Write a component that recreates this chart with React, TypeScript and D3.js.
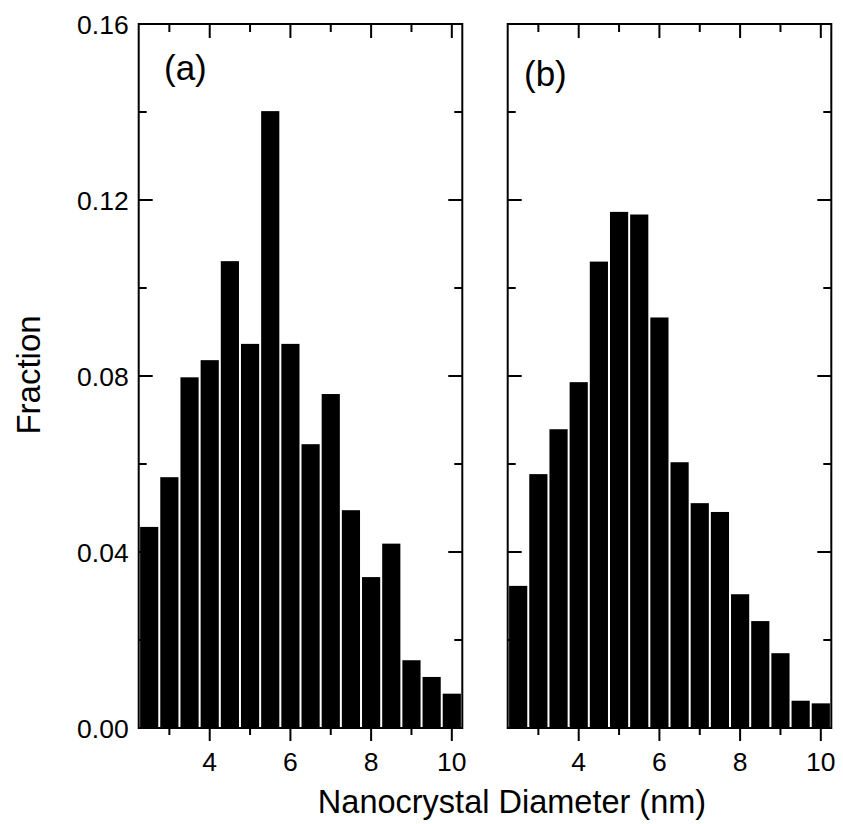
import React from "react";
import * as d3 from "d3";

const binCenters = [2.5, 3.0, 3.5, 4.0, 4.5, 5.0, 5.5, 6.0, 6.5, 7.0, 7.5, 8.0, 8.5, 9.0, 9.5, 10.0];
const fractionA = [0.0457, 0.057, 0.0797, 0.0836, 0.1061, 0.0873, 0.1402, 0.0873, 0.0645, 0.0759, 0.0495, 0.0343, 0.0419, 0.0154, 0.0116, 0.0078];
const fractionB = [0.0323, 0.0577, 0.0679, 0.0786, 0.106, 0.1173, 0.1167, 0.0933, 0.0604, 0.0511, 0.0491, 0.0304, 0.0243, 0.017, 0.0062, 0.0056];
const panelLabels = ["(a)", "(b)"];
const xMajorTicks = [4, 6, 8, 10];
const xMinorTicks = [3, 5, 7, 9];
const yMajorTicks = [0, 0.04, 0.08, 0.12, 0.16];
const yMinorTicks = [0.02, 0.06, 0.1, 0.14];
const xTitle = "Nanocrystal Diameter (nm)";
const yTitle = "Fraction";

const W = 843;
const H = 824;
const top = 24;
const bottom = 728;
const panels = [
  { left: 138.7, right: 462.3, data: fractionA, label: panelLabels[0], lx: 164, ly: 80, showY: true },
  { left: 507.7, right: 831.3, data: fractionB, label: panelLabels[1], lx: 524, ly: 86, showY: false },
];
const font = "'Liberation Sans', Arial, Helvetica, sans-serif";

function Panel({ p }: { p: any }) {
  const x = d3.scaleLinear().domain([2.24, 10.26]).range([p.left, p.right]);
  const y = d3.scaleLinear().domain([0, 0.16]).range([bottom, top]);
  const major = 14;
  const minor = 8;
  return (
    <g>
      {binCenters.map((c, i) => {
        const x0 = x(c - 0.25) + 1;
        const x1 = x(c + 0.25) - 1;
        return (
          <rect key={i} x={Math.max(x0, p.left)} y={y(p.data[i])} width={Math.min(x1, p.right) - Math.max(x0, p.left)} height={y(0) - y(p.data[i])} fill="#000" />
        );
      })}
      <rect x={p.left} y={top} width={p.right - p.left} height={bottom - top} fill="none" stroke="#000" strokeWidth={2} />
      {yMajorTicks.map((t) => (
        <g key={"ym" + t}>
          <line x1={p.left} x2={p.left + major} y1={y(t)} y2={y(t)} stroke="#000" strokeWidth={2} />
          <line x1={p.right} x2={p.right - major} y1={y(t)} y2={y(t)} stroke="#000" strokeWidth={2} />
          {p.showY && (
            <text x={p.left - 10} y={y(t)} dy="0.36em" textAnchor="end" fontSize={26.5} fontFamily={font}>
              {d3.format(".2f")(t)}
            </text>
          )}
        </g>
      ))}
      {yMinorTicks.map((t) => (
        <g key={"yn" + t}>
          <line x1={p.left} x2={p.left + minor} y1={y(t)} y2={y(t)} stroke="#000" strokeWidth={2} />
          <line x1={p.right} x2={p.right - minor} y1={y(t)} y2={y(t)} stroke="#000" strokeWidth={2} />
        </g>
      ))}
      {xMajorTicks.map((t) => (
        <g key={"xm" + t}>
          <line x1={x(t)} x2={x(t)} y1={bottom} y2={bottom + 13} stroke="#000" strokeWidth={2} />
          <line x1={x(t)} x2={x(t)} y1={top} y2={top + major} stroke="#000" strokeWidth={2} />
          <text x={x(t)} y={771} textAnchor="middle" fontSize={26.5} fontFamily={font}>
            {t}
          </text>
        </g>
      ))}
      {xMinorTicks.map((t) => (
        <g key={"xn" + t}>
          <line x1={x(t)} x2={x(t)} y1={bottom} y2={bottom + 7} stroke="#000" strokeWidth={2} />
          <line x1={x(t)} x2={x(t)} y1={top} y2={top + minor} stroke="#000" strokeWidth={2} />
        </g>
      ))}
      <text x={p.lx} y={p.ly} fontSize={35} fontFamily={font}>
        {p.label}
      </text>
    </g>
  );
}

export default function App() {
  return (
    <svg width={W} height={H} style={{ position: "absolute", left: 0, top: 0, background: "#fff" }}>
      <rect x={0} y={0} width={W} height={H} fill="#fff" />
      {panels.map((p, i) => (
        <Panel key={i} p={p} />
      ))}
      <text x={512} y={813} textAnchor="middle" fontSize={32.5} fontFamily={font}>
        {xTitle}
      </text>
      <text transform="translate(40,375) rotate(-90)" textAnchor="middle" fontSize={33} fontFamily={font}>
        {yTitle}
      </text>
    </svg>
  );
}
